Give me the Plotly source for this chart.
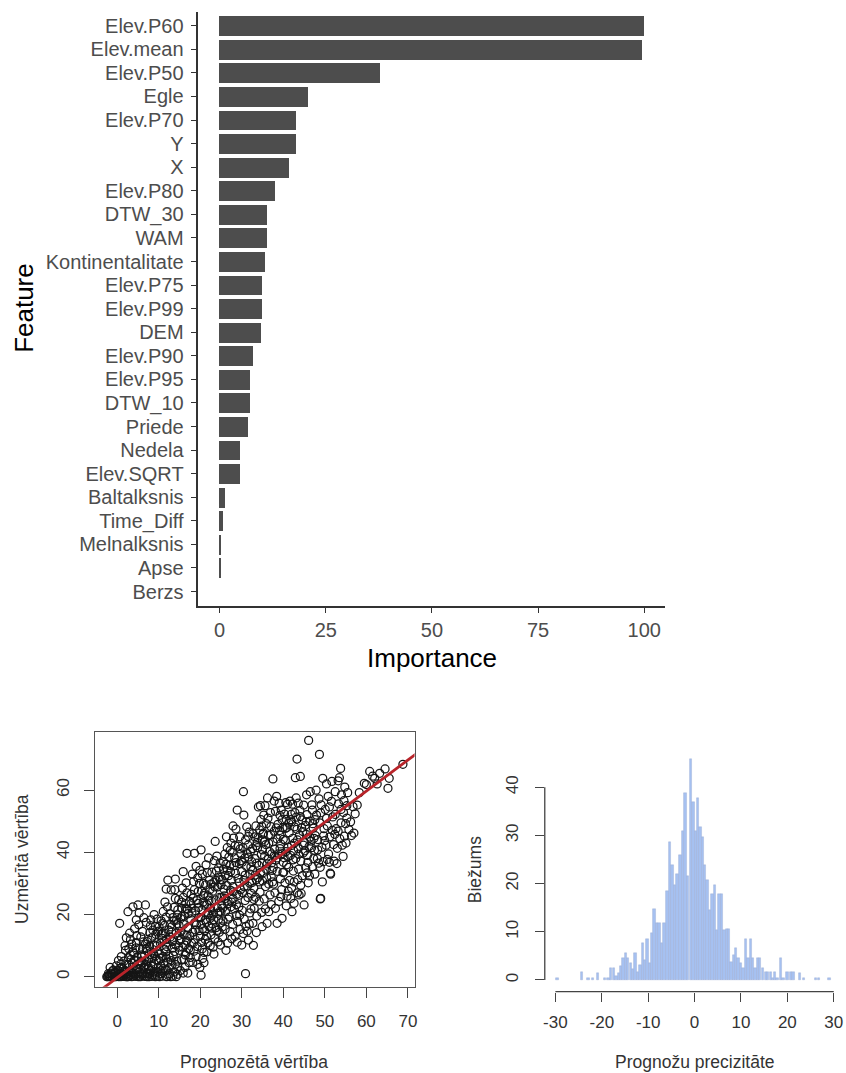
import plotly.graph_objects as go

# ---------------- data ----------------
features = ["Elev.P60", "Elev.mean", "Elev.P50", "Egle", "Elev.P70", "Y", "X", "Elev.P80",
            "DTW_30", "WAM", "Kontinentalitate", "Elev.P75", "Elev.P99", "DEM", "Elev.P90",
            "Elev.P95", "DTW_10", "Priede", "Nedela", "Elev.SQRT", "Baltalksnis", "Time_Diff",
            "Melnalksnis", "Apse", "Berzs"]
importance = [100, 99.5, 37.9, 20.8, 18.0, 18.0, 16.4, 13.2, 11.2, 11.2, 10.8, 10.0, 10.0,
              9.8, 8.0, 7.2, 7.2, 6.8, 4.8, 4.8, 1.25, 0.85, 0.4, 0.3, 0.0]
imp_ticks = [0, 25, 50, 75, 100]

scatter_points = [
    (-2.3, 0), (-2, 0.5), (-1.8, 0.2), (-1.5, 1.2), (-1.2, 0), (-1, 0.8), (-0.7, 0.3), (-0.5, 1.5),
    (-0.3, 0), (0, 0.6), (0.2, 2), (-2.1, 1.0), (-1.6, 0), (-0.9, 2.1),
    (0.4, 0), (0.8, 1), (1.1, 3), (1.3, 0.3), (1.6, 5), (1.8, 2), (2.1, 0), (2.3, 4), (0.6, 2.6),
    (1, 6.5), (1.5, 1.5), (2, 8.5), (2.4, 1), (0.9, 4.1), (1.7, 0.2), (0.6, 17.2), (2.2, 12.5), (1.9, 10),
    (2.6, 0), (2.9, 1.8), (3.1, 0.4), (3.3, 5.5), (3.6, 3), (3.8, 8), (4.0, 0.2), (4.3, 2.2), (4.6, 11),
    (4.8, 6.3), (3.0, 14), (3.5, 10.5), (2.6, 20.9), (3.8, 22.5), (4.6, 18.3), (4.2, 15.4), (2.8, 9),
    (3.2, 12), (4.9, 4), (4.4, 0.5), (3.7, 1.2), (5.0, 23.1), (4.7, 13.2), (2.7, 6.1), (4.0, 7.5),
    (5.1, 0), (5.4, 1.5), (5.6, 3.8), (5.9, 7), (6.2, 0.3), (6.5, 2.6), (6.8, 10.5), (7.1, 5), (7.3, 1),
    (5.2, 16.7), (5.7, 12.8), (6.1, 14.6), (6.8, 23.1), (6.4, 19), (7.0, 17.5), (5.5, 9.2), (6.0, 4.4),
    (6.6, 6.8), (7.4, 12), (5.3, 20.5), (6.3, 11.2), (7.2, 8.3), (5.8, 0.9), (6.9, 0.1), (7.5, 3.2),
    (7.7, 0), (8.0, 2), (8.2, 4.6), (8.5, 0.5), (8.8, 7.4), (9.1, 1.2), (9.4, 5.5), (9.7, 0.2), (9.9, 3),
    (7.8, 9.8), (8.3, 12.5), (8.6, 15), (9.0, 10.2), (9.3, 13.7), (9.6, 18.5), (8.1, 18.3), (9.8, 8.2),
    (8.9, 20), (7.9, 14.2), (9.2, 16.2), (8.4, 6), (9.5, 11), (10, 14.7), (7.6, 5.8), (8.7, 1.7),
    (10.2, 0), (10.5, 3.5), (10.7, 1), (11.0, 6.5), (11.3, 9), (11.6, 2.2), (11.9, 12), (12.2, 4.7),
    (10.4, 10.8), (10.9, 14), (11.4, 16.5), (11.8, 19.2), (12.1, 22.5), (10.6, 18), (11.1, 21),
    (12.4, 15), (10.3, 7.3), (11.7, 8), (12.3, 0.5), (10.8, 12.3), (11.5, 24), (12.0, 11), (10.1, 16),
    (11.8, 28.2), (12.2, 31.1),
    (12.6, 1), (12.9, 0), (13.2, 3.8), (13.5, 6.9), (13.8, 1.5), (14.1, 10.2), (14.4, 5), (14.7, 13.2),
    (15, 8.5), (12.8, 12.8), (13.1, 16), (13.4, 19), (13.7, 22.3), (14.0, 25.2), (14.3, 18.2),
    (14.6, 21.5), (14.9, 16.5), (13.0, 27.9), (14.0, 31.4), (13.3, 9.2), (12.7, 20.3), (14.2, 14),
    (14.8, 24.8), (13.6, 12), (14.5, 0.8), (13.9, 28),
    (15.2, 2), (15.5, 5.5), (15.8, 9.5), (16.1, 13.5), (16.4, 7), (16.7, 11.5), (17, 15.8), (17.3, 4.5),
    (15.3, 18.7), (15.6, 22), (15.9, 25.5), (16.2, 19.5), (16.5, 23.5), (16.8, 27), (17.1, 20.3),
    (17.4, 24.2), (15.9, 33.8), (16.8, 39.7), (15.4, 12.2), (16.0, 16.8), (16.6, 30.2), (17.2, 9),
    (15.7, 28.5), (16.3, 3), (17.0, 1.2),
    (17.6, 6.2), (17.9, 10.8), (18.2, 14.3), (18.5, 8.2), (18.8, 12), (19.1, 16.7), (19.4, 4), (19.7, 19),
    (20, 13), (17.7, 18.6), (18.0, 22), (18.3, 25.3), (18.6, 28), (18.9, 21.2), (19.2, 24.5),
    (19.5, 27.4), (19.8, 30), (18.6, 39.7), (20.2, 40.8), (18.1, 33), (19.0, 35.5), (19.6, 22.3),
    (17.8, 26.5), (18.7, 17.4), (20.2, 0.5), (19.3, 9.7), (19.9, 34.2),
    (20.3, 11), (20.6, 15.5), (20.9, 7.8), (21.2, 18.3), (21.5, 13), (21.8, 20.5), (22.1, 16.2),
    (22.4, 10), (20.4, 21.5), (20.7, 24), (21.0, 26.8), (21.3, 29.5), (21.6, 23.2), (21.9, 26),
    (22.2, 31), (22.5, 22), (20.5, 33), (21.4, 36), (22.0, 38.2), (20.8, 30), (21.7, 33.5), (22.3, 28),
    (20.1, 19), (21.1, 14.8), (22.4, 18.8), (20.9, 4.5), (21.6, 8),
    (22.6, 13.5), (22.9, 17), (23.2, 20.2), (23.5, 12.3), (23.8, 15.8), (24.1, 22.2), (24.4, 18.5),
    (24.7, 25.5), (25, 20.8), (22.7, 24.3), (23.0, 27.5), (23.3, 30.4), (23.6, 43.5), (23.9, 34),
    (24.2, 28.9), (24.5, 32), (24.8, 36.5), (22.8, 33.6), (23.4, 37.3), (24.0, 38.8), (24.6, 14.3),
    (25.0, 29.6), (23.1, 9.5), (24.3, 11.2), (23.7, 24.7), (24.9, 17.3),
    (25.2, 22.8), (25.5, 18), (25.8, 26), (26.1, 21), (26.4, 29.3), (26.7, 24.3), (27, 19.2),
    (27.3, 27.8), (25.3, 31.2), (25.6, 34.6), (25.9, 39.4), (26.2, 36.2), (26.5, 41.5), (26.8, 32.5),
    (27.1, 35.8), (27.4, 43), (25.4, 12.8), (26.0, 15.3), (26.6, 10.8), (27.2, 14.5), (25.7, 28.2),
    (26.9, 38.5), (27.5, 31), (26.3, 45), (25.1, 25.4),
    (27.6, 24), (27.9, 29), (28.2, 21.8), (28.5, 33.2), (28.8, 26.5), (29.1, 31.6), (29.4, 36.4),
    (29.7, 28), (30, 33.8), (27.7, 40), (28.0, 44.6), (28.3, 38.2), (28.6, 47.5), (28.9, 53.6),
    (29.2, 42), (29.5, 45), (29.8, 39.5), (27.8, 16.8), (28.4, 13), (29.0, 17.8), (29.6, 15.2),
    (28.1, 35.7), (29.3, 22.5), (30, 10.2), (28.7, 19.7), (27.9, 48.5),
    (30.2, 27), (30.5, 31), (30.8, 24.5), (31.1, 35.5), (31.4, 29.2), (31.7, 38.5), (32, 33),
    (32.3, 26.8), (30.3, 41.5), (30.5, 52), (30.4, 59.5), (30.9, 44), (31.2, 48.2), (31.5, 42.3),
    (31.8, 46.5), (32.1, 40.3), (32.4, 37), (30.6, 18.5), (31.3, 14.7), (31.9, 20.5), (30.9, 1.0),
    (32.2, 21.8), (30.1, 36.8), (31.0, 16.2), (32.5, 30.3), (31.6, 11.8),
    (32.6, 34.2), (32.9, 28.5), (33.2, 38), (33.5, 31.2), (33.8, 41.5), (34.1, 35.8), (34.4, 27.2),
    (34.7, 39.3), (35, 44), (32.8, 10.1), (33.1, 45), (33.4, 48.5), (33.7, 43.2), (34.0, 54.6),
    (34.3, 47.2), (34.6, 50.5), (34.9, 36.5), (33.0, 22), (33.6, 19.5), (34.2, 24.3), (34.8, 20.7),
    (32.7, 17.2), (33.9, 31.8), (34.5, 55), (35.0, 30.8), (33.3, 25.6),
    (35.2, 33.5), (35.5, 38.8), (35.8, 42.5), (36.1, 36.3), (36.4, 45.5), (36.7, 40.2), (37, 48.3),
    (37.3, 34.2), (35.3, 52), (35.6, 55), (35.9, 49.2), (36.2, 57.5), (36.5, 29.8), (36.8, 26.3),
    (37.1, 23.2), (37.4, 30.5), (36.1, 17.2), (35.4, 25), (35.7, 21.8), (37.5, 43.4), (36.0, 31.8),
    (36.9, 52.8), (37.2, 39.5), (35.1, 45.8),
    (37.6, 35.2), (37.9, 41), (38.2, 37.5), (38.5, 44.3), (38.8, 39.5), (39.1, 47), (39.4, 42.7),
    (39.7, 50.5), (40, 36.8), (37.5, 63.6), (38.5, 17.2), (37.8, 56.5), (38.1, 53.2), (38.4, 58),
    (38.7, 49), (39.0, 55.8), (39.3, 31.5), (39.6, 28), (39.9, 33.5), (38.0, 27), (38.9, 24.2),
    (39.7, 18.8), (37.7, 29.8), (39.2, 45.5), (40.0, 44.2),
    (40.2, 38.3), (40.5, 43.8), (40.8, 36), (41.1, 41.7), (41.4, 46.3), (41.7, 39), (42, 49.8),
    (42.3, 44.5), (40.3, 52.3), (40.6, 56), (40.9, 48), (41.2, 27.5), (41.5, 31), (41.8, 25.2),
    (42.1, 20.9), (42.4, 34), (40.4, 30.2), (40.7, 22.8), (41.0, 55.4), (41.6, 56.5), (42.2, 55.5),
    (40.1, 33.6), (41.3, 35.2), (42.0, 28.5), (42.5, 40.5),
    (42.7, 43), (43, 38), (43.3, 47.4), (43.6, 41.2), (43.9, 45.6), (44.2, 37.2), (44.5, 50.4),
    (44.8, 42.3), (42.9, 64), (44.1, 64.4), (43.3, 70), (42.8, 52.8), (43.4, 27), (43.8, 26.3),
    (44.3, 26.8), (44.6, 32.5), (45.0, 23.1), (42.6, 30.5), (43.7, 34.6), (44.9, 55.2), (44.0, 53.5),
    (43.1, 57.5), (44.7, 46.7), (43.5, 31.2),
    (45.2, 40.5), (45.5, 45.8), (45.8, 39), (46.1, 76), (46.4, 50), (46.7, 43.6), (47, 53.6),
    (47.3, 38), (45.4, 35), (45.9, 36.8), (46.3, 32.4), (46.8, 41.5), (47.2, 47.8), (45.6, 58.5),
    (46.5, 59.5), (47.4, 44.5), (46.0, 30.2), (47.0, 35.4), (45.3, 48.7),
    (47.7, 45.4), (48.0, 52), (48.3, 40.8), (48.6, 57.2), (48.7, 71.5), (48.9, 25.0), (49.0, 25.2),
    (49.3, 41.6), (49.5, 63.8), (49.8, 47.6), (48.2, 38), (48.5, 36.5), (47.9, 60), (49.1, 55.3),
    (49.6, 37), (50, 43.8), (48.8, 49.5), (49.4, 30.5), (47.6, 33),
    (50.3, 42.3), (50.6, 48.5), (50.9, 39.5), (51.2, 45), (51.3, 33.3), (51.4, 33.0), (51.6, 56.4),
    (51.9, 51.4), (52.2, 37.2), (50.4, 62), (50.8, 58), (51.1, 36.8), (52.1, 42.5), (52.4, 45.8),
    (50.1, 53.8), (51.7, 62.8), (52.5, 59.5),
    (52.7, 47.6), (53, 41.3), (53.3, 55.6), (53.6, 44.4), (53.8, 67), (53.9, 49.5), (54.2, 42.3),
    (54.5, 52.8), (54.8, 61), (52.9, 36.4), (53.5, 64), (54.0, 58.5), (54.7, 45.2), (55, 49.2),
    (53.2, 63), (54.4, 38.7),
    (55.3, 51), (55.8, 47.3), (56.4, 45.4), (56.8, 54.7), (57.3, 52.4), (57.8, 55.2), (55.5, 59.2),
    (56.2, 49.8), (57.0, 46.2), (58.3, 59.2), (59.5, 62.2), (55.1, 43),
    (60, 61.8), (60.8, 66), (61.5, 64.5), (62, 63.8), (63.2, 65.4), (64.5, 66.8), (65.2, 60.6),
    (65.5, 63.8), (68.8, 68.3), (62.6, 62),
    (0.8, 0.1), (1.4, 2.6), (2.2, 0.7), (2.8, 3.9), (3.4, 1.6), (4.1, 5.3), (4.7, 2.4), (5.5, 0.2),
    (5.9, 6.4), (6.4, 3.1), (7.0, 9.1), (7.6, 2.5), (8.2, 7.9), (8.9, 4.1), (9.5, 9.9), (10.0, 5.2),
    (10.6, 13.6), (11.2, 4.3), (11.9, 9.7), (12.5, 6.6), (13.1, 14.4), (13.8, 8.1), (14.4, 17.1),
    (15.1, 11.6), (15.6, 19.4), (16.3, 10.2), (16.9, 21.7), (17.5, 13.1), (18.0, 20.5), (18.8, 15.1),
    (19.5, 23.6), (20.2, 16.8), (20.8, 26.1), (21.5, 17.5), (22.1, 24.6), (22.8, 19.8), (23.5, 28.9),
    (24.2, 20.4), (24.8, 31.2), (25.4, 22.1), (26.0, 32.6), (26.6, 23.5), (27.3, 33.8), (27.9, 25.1),
    (28.6, 36.7), (29.3, 26.2), (29.9, 37.3), (30.6, 28.9), (31.3, 39.6), (31.9, 30.1), (32.6, 41.2),
    (33.2, 32.7), (33.9, 44.8), (34.5, 33.5), (35.2, 46.2), (35.9, 34.6), (36.5, 42.9), (37.2, 36.6),
    (37.8, 46.8), (38.5, 38.2), (39.2, 51.9), (39.8, 39.6), (40.5, 47.7), (41.1, 38.6), (41.8, 50.5),
    (42.4, 37.6), (43.1, 51.3), (43.7, 39.4), (44.4, 47.9), (45.1, 43.1), (45.7, 52.1), (46.4, 44.9),
    (47.1, 49.2),
    (-2.5, 0), (-2.2, 0.2), (-1.9, 0), (-1.3, 0.1), (-0.6, 0), (0.1, 0.1), (0.9, 0), (1.5, 0.1),
    (2.4, 0), (3.5, 0), (4.6, 0.1), (5.6, 0), (6.6, 0.2), (7.2, 0), (8.3, 0.1), (9.2, 0), (10.9, 0.2),
    (11.9, 0), (13.4, 0.2), (14.2, 0), (-1.7, 3), (-0.2, 3.5), (0.3, 5.2), (-1.1, 1.9),
    (1.2, 0.9), (2.0, 1.4), (2.9, 0.2), (3.6, 4.4), (4.3, 1), (5.0, 2.7), (5.7, 5), (6.3, 1.2),
    (7.0, 3.9), (7.8, 1), (8.5, 3.3), (9.1, 6.6), (9.9, 1.5), (10.4, 5.9), (11.1, 2.6), (11.8, 6.1),
    (12.6, 3), (13.3, 11.3), (14.0, 4), (14.8, 9.5), (15.4, 14.6), (16.1, 5.6), (16.8, 13.4),
    (17.6, 8.6), (18.4, 11), (19.0, 6.5), (19.7, 14.8), (20.5, 9), (21.2, 12), (22.0, 20.1),
    (22.7, 15.6), (23.3, 18.3), (24.0, 14.9), (24.7, 21), (25.3, 16), (26.0, 25.2), (26.7, 18.5),
    (27.4, 22.5), (28.0, 27.3), (28.7, 23.2), (29.4, 30.3), (30.1, 21.3), (30.8, 32.7), (31.5, 25.5),
    (32.2, 35.3), (32.9, 24.9), (33.6, 36.5), (34.3, 30.5), (35.0, 40.8), (35.7, 29), (36.4, 37.8),
    (37.1, 32.2), (37.8, 38.9), (38.5, 33.9), (39.2, 41.2), (39.9, 47.9), (40.6, 40.2), (41.3, 49.4),
    (42.0, 42.2), (42.7, 48.2), (43.4, 44), (44.1, 51.5), (44.8, 39.8), (45.5, 49.9), (46.2, 41.9),
    (46.9, 55.3), (47.6, 50.5), (48.3, 44.1), (49.0, 52.7), (49.7, 45.3), (50.4, 50.9), (51.1, 54.6),
    (51.8, 47.1), (52.5, 52.2), (53.2, 46.8), (53.9, 53.8), (54.6, 56.6), (55.3, 55),
    (3.2, 7), (4.5, 9.3), (6.1, 8.9), (7.2, 11.3), (8.0, 16.4), (9.7, 14.4), (10.9, 17.1), (11.6, 13.9),
    (12.9, 16.8), (13.7, 18), (14.6, 19.9), (15.5, 24), (16.6, 21.9), (17.8, 23.5), (18.4, 30.6),
    (19.4, 31.8), (20.3, 27.5), (21.0, 23), (22.6, 29.8), (23.8, 31), (24.4, 35), (25.6, 37),
    (26.5, 34.2), (27.2, 40.6), (28.4, 42.2), (29.6, 41.1), (30.7, 38.2), (31.6, 45.1), (32.7, 46),
    (33.5, 42.1), (34.8, 48.4), (35.5, 43.5), (36.3, 51), (37.0, 45.6), (38.3, 47.9), (39.5, 53.6),
    (40.7, 50.6), (41.9, 52.2), (43.6, 55.8),
    (9.0, 0.5), (10.5, 1.9), (12.0, 2.1), (13.0, 5.2), (14.6, 3.2), (15.9, 1.2), (16.6, 7.8),
    (18.2, 4.6), (19.9, 3), (20.6, 5.9), (21.9, 10.9), (23.3, 7.3), (24.9, 10.2), (26.2, 8.5),
    (27.6, 12.2), (28.9, 11.1), (29.5, 19.8), (30.4, 13.9), (31.8, 16.9), (33.5, 14.2), (34.9, 16.1),
    (36.5, 20.9), (38.1, 22), (39.4, 25.7), (40.9, 25.9), (42.6, 23.6), (44.2, 29.4), (45.7, 33.4),
    (47.5, 40.7), (48.9, 35.2), (50.6, 37.7),
]
pred_vals = [p[0] for p in scatter_points]
meas_vals = [p[1] for p in scatter_points]
fit_intercept = -0.3
fit_slope = 1.0
scat_xticks = [0, 10, 20, 30, 40, 50, 60, 70]
scat_yticks = [0, 20, 40, 60]

hist_centers = [-29.6, -24.3, -22.9, -21.9, -20.9, -19.4, -18.6, -18.0, -17.4, -16.9, -16.4, -15.9,
                -15.4, -14.9, -14.4, -13.8, -13.3, -12.8, -12.2, -11.7, -11.2, -10.7, -10.2, -9.7,
                -9.2, -8.7, -8.1, -7.6, -7.0, -6.5, -5.9, -5.4, -4.8, -4.2, -3.7, -3.1, -2.6, -2.0,
                -1.4, -0.8, -0.3, 0.28, 0.75, 1.2, 1.71, 2.2, 2.71, 3.25, 3.8, 4.3, 4.85, 5.3, 5.85,
                6.4, 6.9, 7.4, 7.9, 8.4, 8.95, 9.45, 10.0, 10.5, 11.1, 11.6, 12.1, 12.6, 13.1, 13.6,
                14.1, 14.7, 15.3, 15.8, 16.4, 16.9, 17.3, 17.8, 18.6, 19.1, 20.0, 20.8, 21.3, 22.6,
                23.6, 26.1, 26.8, 29.0]
hist_counts = [0.4, 1.7, 0.4, 0.4, 1.5, 0.4, 0.5, 2.4, 2.4, 0.8, 1.5, 3.0,
               4.5, 5.7, 4.5, 3.5, 2.2, 5.7, 1.7, 3.2, 7.6, 4.2, 8.6, 3.5,
               9.7, 14.7, 11.8, 11.8, 7.6, 11.8, 18.5, 28.6, 23.9, 19.7, 22.0, 25.9, 31.0, 38.7,
               21.6, 45.8, 37.0, 31.0, 37.7, 31.7, 29.6, 23.9, 20.7, 14.5, 17.8, 19.7, 10.4, 17.8, 17.8,
               10.4, 10.6, 10.6, 3.8, 5.2, 6.6, 4.5, 3.5, 2.4, 8.6, 4.5, 8.6, 4.5, 2.4, 4.5,
               4.5, 2.4, 1.7, 1.7, 1.7, 0.5, 1.7, 0.5, 4.5, 0.5, 1.7, 1.7, 1.7, 1.4,
               0.4, 0.4, 0.4, 0.4]
hist_xticks = [-30, -20, -10, 0, 10, 20, 30]
hist_yticks = [0, 10, 20, 30, 40]

# ---------------- layout helpers ----------------
W, H = 846, 1073
def fx(p):
    return p / W
def fy(p):
    return 1 - p / H

FONT = "Liberation Sans, Arial, sans-serif"

fig = go.Figure()

# Feature importance bars
fig.add_trace(go.Bar(
    x=importance, y=features, orientation="h", width=0.84,
    marker=dict(color="#4d4d4d", line=dict(width=0)),
    xaxis="x", yaxis="y", showlegend=False, hoverinfo="x+y"))

# Scatter
fig.add_trace(go.Scatter(
    x=pred_vals, y=meas_vals, mode="markers",
    marker=dict(symbol="circle-open", size=8, color="#151515", line=dict(width=1.25)),
    xaxis="x2", yaxis="y2", showlegend=False))

# Fitted line across the plot region
x_lo, x_hi = -8, 75
fig.add_trace(go.Scatter(
    x=[x_lo, x_hi], y=[fit_intercept + fit_slope * x_lo, fit_intercept + fit_slope * x_hi],
    mode="lines", line=dict(color="#b8242a", width=2.8),
    xaxis="x2", yaxis="y2", showlegend=False, hoverinfo="skip"))

# Histogram bars
fig.add_trace(go.Bar(
    x=hist_centers, y=hist_counts, width=0.5,
    marker=dict(color="#a6c1f1", line=dict(color="#97aad2", width=0.4)),
    xaxis="x3", yaxis="y3", showlegend=False))

axis_common = dict(showgrid=False, zeroline=False)

fig.update_layout(
    width=W, height=H,
    margin=dict(l=0, r=0, t=0, b=0),
    paper_bgcolor="white", plot_bgcolor="white",
    font=dict(family=FONT, color="#333333"),
    bargap=0,
    xaxis=dict(domain=[fx(197.6), fx(667.4)], range=[-5, 105], anchor="y",
               tickvals=imp_ticks, ticks="outside", ticklen=5, tickwidth=1.3, tickcolor="#333333",
               showline=True, linecolor="#333333", linewidth=1.6,
               tickfont=dict(size=20, color="#4d4d4d"), ticklabelstandoff=0, **axis_common),
    yaxis=dict(domain=[fy(605.7), fy(11.6)], anchor="x", type="category",
               categoryorder="array", categoryarray=features, range=[24.6, -0.6],
               tickmode="array", tickvals=features, ticktext=features,
               ticks="outside", ticklen=6, tickwidth=1.3, tickcolor="#333333",
               showline=True, linecolor="#333333", linewidth=1.6,
               tickfont=dict(size=20, color="#4d4d4d"), ticklabelstandoff=3, **axis_common),
    xaxis2=dict(domain=[fx(93.3), fx(415)], range=[-5.4, 71.6], anchor="y2",
                tickmode="array", tickvals=scat_xticks, ticktext=[str(v) for v in scat_xticks],
                ticks="outside", ticklen=10, tickwidth=1.2, tickcolor="#444444",
                showline=True, mirror=True, linecolor="#555555", linewidth=1.3,
                tickfont=dict(size=17, color="#333333"), ticklabelstandoff=9, **axis_common),
    yaxis2=dict(domain=[fy(986.7), fy(732.3)], range=[-3.2, 78.6], anchor="x2",
                tickmode="array", tickvals=scat_yticks, ticktext=[str(v) for v in scat_yticks],
                ticks="outside", ticklen=10, tickwidth=1.2, tickcolor="#444444",
                showline=True, mirror=True, linecolor="#555555", linewidth=1.3, tickangle=-90,
                tickfont=dict(size=17, color="#333333"), ticklabelstandoff=8, **axis_common),
    xaxis3=dict(domain=[fx(546), 1.0], range=[-32.29, 31.99], anchor="y3",
                tickmode="array", tickvals=hist_xticks, ticktext=[str(v) for v in hist_xticks],
                ticks="outside", ticklen=9, tickwidth=1.2, tickcolor="#444444",
                showline=False, tickfont=dict(size=17, color="#333333"), ticklabelstandoff=6,
                **axis_common),
    yaxis3=dict(domain=[fy(991.7), fy(749)], range=[-2.43, 47.93], anchor="x3",
                tickmode="array", tickvals=hist_yticks, ticktext=[str(v) for v in hist_yticks],
                ticks="outside", ticklen=9, tickwidth=1.2, tickcolor="#444444",
                showline=False, tickangle=-90, tickfont=dict(size=17, color="#333333"),
                ticklabelstandoff=10, **axis_common),
)

# R-style detached axis lines for the histogram (span first..last tick)
fig.add_shape(type="line", xref="x3", yref="y3 domain",
              x0=min(hist_xticks), x1=max(hist_xticks), y0=0, y1=0,
              line=dict(color="#444444", width=1.3))
fig.add_shape(type="line", xref="x3 domain", yref="y3",
              x0=0, x1=0, y0=min(hist_yticks), y1=max(hist_yticks),
              line=dict(color="#444444", width=1.3))

# Axis titles
def ann(text, x, y, size, angle=0, color="#000000"):
    fig.add_annotation(text=text, x=fx(x), y=fy(y), xref="paper", yref="paper",
                       showarrow=False, textangle=angle, xanchor="center", yanchor="middle",
                       font=dict(size=size, color=color, family=FONT))

ann("Feature", 22, 308, 26, angle=-90)
ann("Importance", 432.5, 658, 26)
ann("Uzmērītā vērtība", 20, 859, 17.5, angle=-90, color="#333333")
ann("Prognozētā vērtība", 254, 1062, 17.5, color="#333333")
ann("Biežums", 476, 870, 17.5, angle=-90, color="#333333")
ann("Prognožu precizitāte", 697, 1062, 17.5, color="#333333")

# remove the default page margin so the figure sits at the window's top-left corner
fig.write_html("out.html", config={"displayModeBar": False},
               post_script="document.body.style.margin='0';document.body.style.overflow='hidden';")
